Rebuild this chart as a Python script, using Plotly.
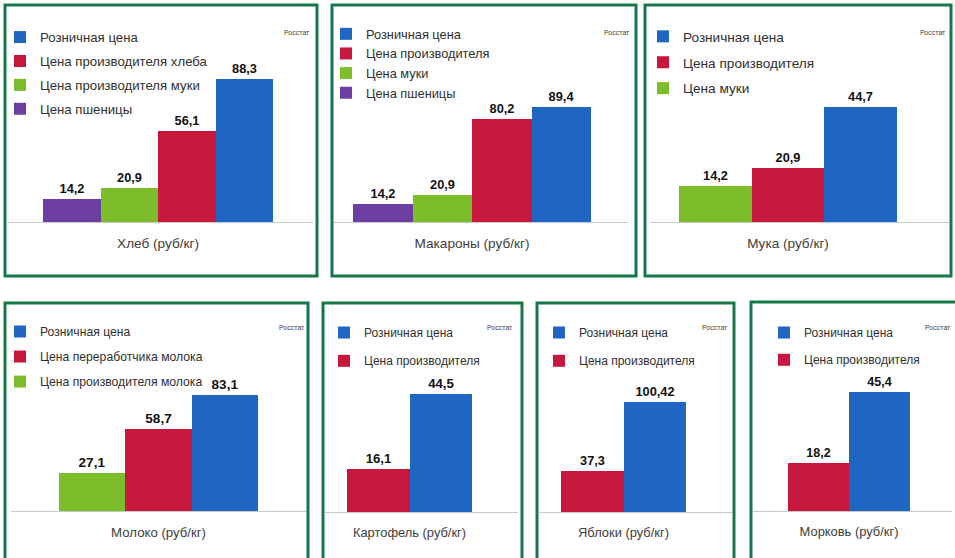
import plotly.graph_objects as go

W, H = 955, 558

# ---------------- data ----------------
categories = ["Хлеб (руб/кг)", "Макароны (руб/кг)", "Мука (руб/кг)", "Молоко (руб/кг)",
              "Картофель (руб/кг)", "Яблоки (руб/кг)", "Морковь (руб/кг)"]

bread_series = ["Цена пшеницы", "Цена производителя муки", "Цена производителя хлеба", "Розничная цена"]
bread_values = [14.2, 20.9, 56.1, 88.3]

pasta_series = ["Цена пшеницы", "Цена муки", "Цена производителя", "Розничная цена"]
pasta_values = [14.2, 20.9, 80.2, 89.4]

flour_series = ["Цена муки", "Цена производителя", "Розничная цена"]
flour_values = [14.2, 20.9, 44.7]

milk_series = ["Цена производителя молока", "Цена переработчика молока", "Розничная цена"]
milk_values = [27.1, 58.7, 83.1]

potato_series = ["Цена производителя", "Розничная цена"]
potato_values = [16.1, 44.5]

apple_series = ["Цена производителя", "Розничная цена"]
apple_values = [37.3, 100.42]

carrot_series = ["Цена производителя", "Розничная цена"]
carrot_values = [18.2, 45.4]

source_label = "Росстат"

series_list = [bread_series, pasta_series, flour_series, milk_series,
               potato_series, apple_series, carrot_series]
values_list = [bread_values, pasta_values, flour_values, milk_values,
               potato_values, apple_values, carrot_values]

# ---------------- styling / layout (pixels) ----------------
palette = ["#6d3fa3", "#7cbd2c", "#c8173c", "#1e66c1"]  # purple, green, red, blue
border_color = "#16784a"
FONT = "Liberation Sans"

panels = [
    dict(border=(5, 5, 317, 276), plot=(8, 313), base=222, top=20, center=158, gw=230, ppu=1.62,
         sq=20, ly=37, lsp=24, lfs=13.2, cfs=13.6, vfs=12.8, src=(312, 33, "right")),
    dict(border=(332, 5, 636, 276), plot=(333, 628), base=222, top=20, center=472, gw=238, ppu=1.29,
         sq=349, ly=34, lsp=19, lfs=12.8, cfs=13.6, vfs=12.8, src=(602, 33, "left")),
    dict(border=(645, 5, 951, 276), plot=(650, 949), base=222, top=20, center=788, gw=218, ppu=2.57,
         sq=666, ly=36, lsp=26, lfs=13.6, cfs=13.6, vfs=12.8, src=(948, 33, "right")),
    dict(border=(5, 303, 308, 700), plot=(11, 308), base=511, top=318, center=158.5, gw=199, ppu=1.40,
         sq=20, ly=332, lsp=25, lfs=12.2, cfs=13.2, vfs=13.5, src=(307, 327, "right")),
    dict(border=(323, 303, 522, 700), plot=(325, 518), base=512, top=318, center=409.5, gw=125, ppu=2.65,
         sq=347, ly=333, lsp=28, lfs=12.0, cfs=12.9, vfs=13.2, src=(515, 327, "right")),
    dict(border=(537, 303, 734, 700), plot=(539, 732), base=512, top=318, center=623.5, gw=125, ppu=1.10,
         sq=562, ly=333, lsp=28, lfs=12.0, cfs=12.9, vfs=12.8, src=(730, 327, "right")),
    dict(border=(751, 302, 957, 700), plot=(753, 952), base=511, top=318, center=849, gw=122, ppu=2.63,
         sq=787, ly=333, lsp=27, lfs=12.0, cfs=12.9, vfs=12.5, src=(953, 327, "right")),
]


def px(x):
    return x / W


def py(y):
    return 1 - y / H


def fmt(v):
    return str(v).replace(".", ",")


fig = go.Figure()
layout = dict(
    width=W, height=H,
    margin=dict(l=0, r=0, t=0, b=0, autoexpand=False),
    paper_bgcolor="white", plot_bgcolor="white",
    barmode="group", bargap=0, bargroupgap=0,
    font=dict(family=FONT, color="#333333"),
    showlegend=True,
    shapes=[], annotations=[],
)

for i, (p, names, vals, cat) in enumerate(zip(panels, series_list, values_list, categories)):
    k = i + 1
    xa = "x" if k == 1 else f"x{k}"
    ya = "y" if k == 1 else f"y{k}"
    leg = "legend" if k == 1 else f"legend{k}"
    n = len(names)
    colors = palette[-n:]
    for j, (nm, v) in enumerate(zip(names, vals)):
        fig.add_trace(go.Bar(
            x=[cat], y=[v], name=nm,
            marker=dict(color=colors[j], line=dict(width=0)),
            text=[fmt(v)], textposition="outside", cliponaxis=False,
            constraintext="none",
            textfont=dict(family=FONT, size=p["vfs"], color="#111111", weight="bold"),
            xaxis=xa, yaxis=ya, legend=leg, legendgroup=f"g{k}_{j}",
            legendrank=n - j,
            hoverinfo="skip",
        ))
    x0, x1 = p["plot"]
    c, gw = p["center"], p["gw"]
    ymax = (p["base"] - p["top"]) / p["ppu"]
    axkey = "xaxis" if k == 1 else f"xaxis{k}"
    aykey = "yaxis" if k == 1 else f"yaxis{k}"
    layout[axkey] = dict(
        domain=[px(x0), px(x1)], anchor=ya, type="category",
        range=[-(c - x0) / gw, (x1 - c) / gw],
        showline=True, linecolor="#c8c8c8", linewidth=1,
        ticks="", showgrid=False, zeroline=False, fixedrange=True,
        tickfont=dict(family=FONT, size=p["cfs"], color="#404040"),
        ticklabelstandoff=9,
    )
    layout[aykey] = dict(
        domain=[py(p["base"]), py(p["top"])], anchor=xa,
        range=[0, ymax], visible=False, fixedrange=True,
    )
    entry_h = 1.3 * p["lfs"] + 3.1
    layout[leg] = dict(
        x=max(px(p["sq"] - 23), 0.0), xanchor="left",
        y=py(p["ly"] - 15), yanchor="top",
        bgcolor="rgba(0,0,0,0)", borderwidth=0,
        traceorder="grouped",
        tracegroupgap=max(p["lsp"] - entry_h, 0),
        font=dict(family=FONT, size=p["lfs"], color="#303030"),
        itemclick=False, itemdoubleclick=False,
    )
    bx0, by0, bx1, by1 = p["border"]
    layout["shapes"].append(dict(
        type="rect", xref="paper", yref="paper",
        x0=px(bx0), x1=px(bx1), y0=py(by1), y1=py(by0),
        line=dict(color=border_color, width=3), fillcolor="rgba(0,0,0,0)", layer="above",
    ))
    sx, sy, anc = p["src"]
    layout["annotations"].append(dict(
        text=source_label, xref="paper", yref="paper",
        x=px(sx), y=py(sy), xanchor=anc, yanchor="middle", showarrow=False,
        font=dict(family=FONT, size=7, color="#444444"),
    ))

fig.update_layout(**layout)

fig.write_html("out.html", config={"displayModeBar": False},
               post_script="document.body.style.margin='0';document.body.style.overflow='hidden';")
